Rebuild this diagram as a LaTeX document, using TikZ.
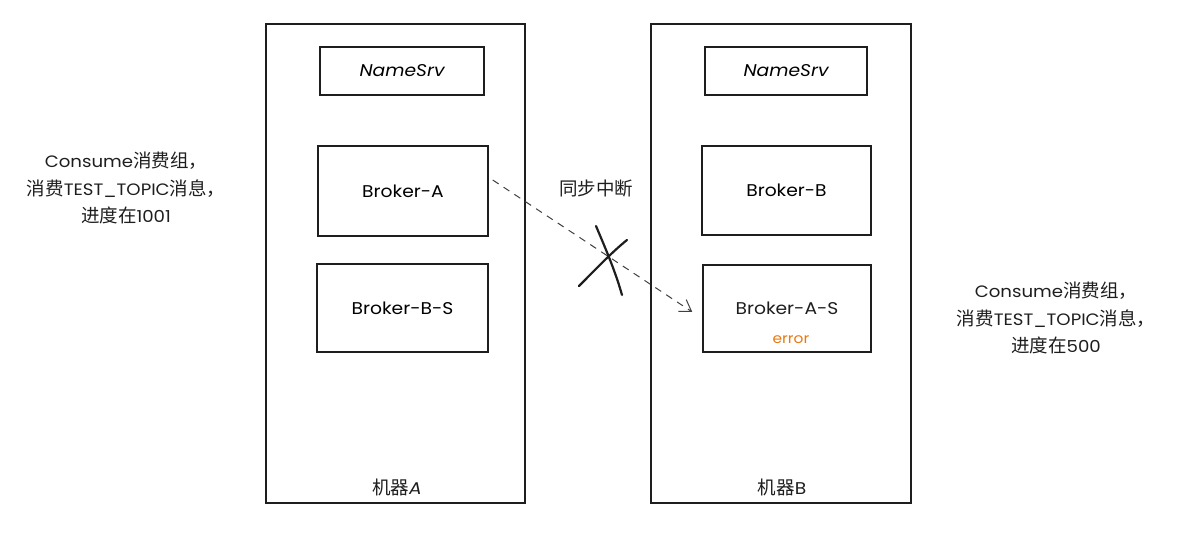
\documentclass[tikz,border=0pt]{standalone}
\usepackage{fontspec}
\setmainfont{Poppins}[FakeStretch=1.1]
\newfontfamily\cjk{Noto Sans CJK SC}
\newcommand\cjtext[1]{{\cjk\fontsize{18.5}{20}\selectfont #1}}
\usetikzlibrary{arrows.meta}
\definecolor{errorange}{HTML}{E8790F}
\definecolor{ink}{HTML}{1E1E1E}
\tikzset{
  machine/.style={draw=ink, line width=1.4pt},
  box/.style={draw=ink, line width=1.4pt, inner sep=0pt, font=\fontsize{17}{19}\selectfont},
  lbl/.style={font=\fontsize{17}{19}\selectfont, text=ink, inner sep=0pt},
  note/.style={font=\fontsize{16.5}{27.5}\selectfont, text=ink, align=center, inner sep=0pt},
}
\begin{document}
\begin{tikzpicture}[x=1pt,y=-1pt]
\useasboundingbox (0,0) rectangle (1179,534);
% machines
\node[machine, minimum width=259pt, minimum height=479pt, inner sep=0pt] (ma) at (395.5,263.5) {};
\node[machine, minimum width=260pt, minimum height=479pt, inner sep=0pt] (mb) at (781,263.5) {};
% boxes machine A
\node[box, minimum width=164pt, minimum height=48pt] (nsa) at (402,71) {\itshape NameSrv};
\node[box, minimum width=170pt, minimum height=90pt] (ba) at (403,191) {Broker-A};
\node[box, minimum width=171pt, minimum height=88pt] (bbs) at (402.5,308) {Broker-B-S};
% boxes machine B
\node[box, minimum width=162pt, minimum height=48pt] (nsb) at (786,71) {\itshape NameSrv};
\node[box, minimum width=169pt, minimum height=89pt] (bb) at (786.5,190.5) {Broker-B};
\node[box, minimum width=168pt, minimum height=87pt] (bas) at (787,308.5) {};
\node[lbl] (basl) at (787,308) {Broker-A-S};
\node[lbl, text=errorange, font=\fontsize{14}{16}\selectfont] (err) at (791,340) {error};
% machine labels
\node[lbl] (la) at (397,487) {\cjtext{机器}\itshape A};
\node[lbl] (lb) at (782,487) {\cjtext{机器}B};
% notes
\node[note] (na) at (126,188) {Consume\cjtext{消费组，}\\\cjtext{消费}TEST\_TOPIC\cjtext{消息，}\\\cjtext{进度在}1001};
\node[note] (nb) at (1056,318) {Consume\cjtext{消费组，}\\\cjtext{消费}TEST\_TOPIC\cjtext{消息，}\\\cjtext{进度在}500};
\node[lbl] (sync) at (596,189) {\cjtext{同步中断}};
% dashed arrow
\draw[ink!85, line width=1pt, dash pattern=on 7pt off 6pt, -{Straight Barb[length=11pt,width=14pt]}]
  ([xshift=4pt,yshift=11pt]ba.east) -- ([xshift=-10pt,yshift=-3.5pt]bas.west);
% cross
\draw[ink, line width=2.2pt, line cap=round] (596,226) .. controls (604,245) and (615,270) .. (622,295);
\draw[ink, line width=2.2pt, line cap=round] (579,286) .. controls (595,270) and (612,252) .. (627,240);
\end{tikzpicture}
\end{document}
